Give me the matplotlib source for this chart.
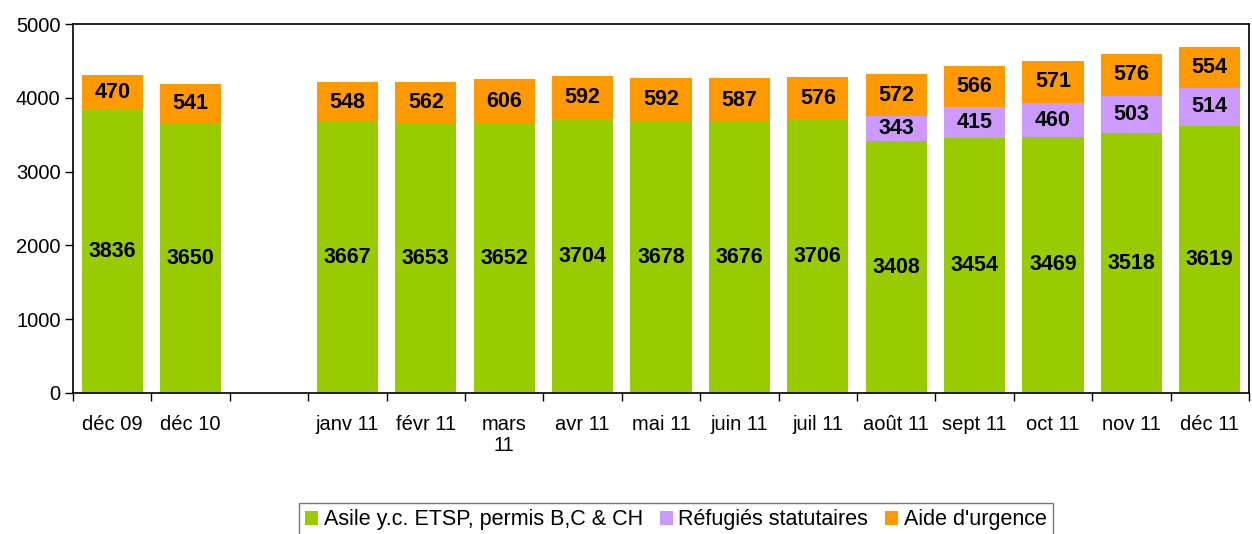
import numpy as np
import matplotlib.pyplot as plt
from matplotlib.patches import Patch

plt.rcParams['font.family'] = ['Liberation Sans', 'DejaVu Sans']

labels = ["déc 09", "déc 10", "", "janv 11", "févr 11", "mars\n11", "avr 11", "mai 11",
          "juin 11", "juil 11", "août 11", "sept 11", "oct 11", "nov 11", "déc 11"]
asile = [3836, 3650, 0, 3667, 3653, 3652, 3704, 3678, 3676, 3706, 3408, 3454, 3469, 3518, 3619]
refugies = [0, 0, 0, 0, 0, 0, 0, 0, 0, 0, 343, 415, 460, 503, 514]
aide = [470, 541, 0, 548, 562, 606, 592, 592, 587, 576, 572, 566, 571, 576, 554]

series = [("Asile y.c. ETSP, permis B,C & CH", asile, "#99CC00"),
          ("Réfugiés statutaires", refugies, "#CC99FF"),
          ("Aide d'urgence", aide, "#FF9900")]

fig = plt.figure(figsize=(12.52, 5.34), dpi=100)
ax = fig.add_axes([73/1252, 1 - 393/534, 1176/1252, 369/534])

x = np.arange(len(labels))
bottom = np.zeros(len(labels))
for name, vals, color in series:
    vals = np.array(vals, dtype=float)
    ax.bar(x, vals, width=0.78, bottom=bottom, color=color, linewidth=0)
    for xi, b, v in zip(x, bottom, vals):
        if v > 0:
            ax.text(xi, b + v / 2, f"{int(v)}", ha='center', va='center',
                    fontsize=15.5, fontweight='bold', color='black')
    bottom += vals

ax.set_xlim(-0.5, len(labels) - 0.5)
ax.set_ylim(0, 5000)
ax.set_yticks(range(0, 5001, 1000))
ax.tick_params(axis='y', labelsize=14.5, length=6, width=1, direction='out', pad=3)

ax.set_xticks(x)
ax.set_xticklabels(labels, fontsize=14.5, linespacing=1.15)
ax.tick_params(axis='x', length=0, pad=16)
ax.set_xticks(np.arange(-0.5, len(labels), 1), minor=True)
ax.tick_params(axis='x', which='minor', length=6, width=1, direction='out')

for s in ax.spines.values():
    s.set_linewidth(1.2)
    s.set_color('black')

handles = [Patch(facecolor=c, edgecolor='none', label=n) for n, _, c in series]
leg = fig.legend(handles=handles, loc='upper center', bbox_to_anchor=(676/1252, 1 - 503/534),
                 ncol=3, fontsize=15.5, frameon=True, fancybox=False,
                 handlelength=0.6, handleheight=0.6, handletextpad=0.25,
                 columnspacing=0.8, borderpad=0.3, borderaxespad=0)
leg.get_frame().set_edgecolor('#555555')
leg.get_frame().set_linewidth(1)

fig.savefig("out.png", dpi=100)
